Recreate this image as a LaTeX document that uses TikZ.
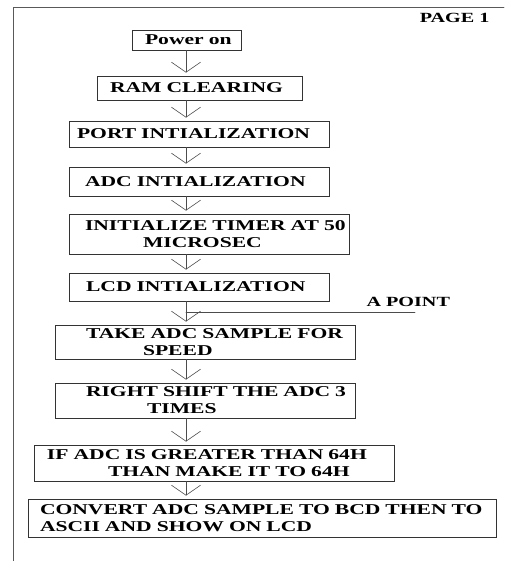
\documentclass[tikz,border=0pt]{standalone}
\usepackage{fontspec}
\usepackage{tikz}
\usetikzlibrary{arrows.meta}
\newfontfamily\flowfont{Liberation Serif}[FakeStretch=1.44]

\begin{document}
\begin{tikzpicture}[x=1pt,y=-1pt,>={Straight Barb[length=10pt,width=29pt]},font=\flowfont\bfseries\fontsize{15}{17}\selectfont,line cap=round,
  box/.style={draw=black!80,line width=0.8pt,inner xsep=0pt,inner ysep=0pt,align=left},
  flow/.style={->,gray!60!black,line width=0.6pt,shorten >=3pt}]
\useasboundingbox (0,0) rectangle (504,561);
\draw[gray!70!black,line width=0.8pt] (504,7) -- (13,7) -- (13,561);
\coordinate (axis) at (186,0);
\node[anchor=east,font=\flowfont\bfseries\fontsize{14}{16}\selectfont] (page) at (493,17.5) {PAGE 1};
\node[box,text width=109pt,minimum height=20pt] (pwr) at (186.5,40) {\hspace*{13pt}Power on};
\node[box,text width=205pt,minimum height=24pt] (ram) at (199.5,88) {\hspace*{13pt}RAM CLEARING};
\node[box,text width=260pt,minimum height=26pt] (port) at (199,134) {\hspace*{8pt}PORT INTIALIZATION};
\node[box,text width=260pt,minimum height=29pt] (adc) at (199,181.5) {\hspace*{16pt}ADC INTIALIZATION};
\node[box,text width=280pt,minimum height=40pt] (timer) at (209,234) {\hspace*{16pt}INITIALIZE TIMER AT 50\\\hspace*{74pt}MICROSEC};
\node[box,text width=260pt,minimum height=28pt] (lcd) at (199,287) {\hspace*{17pt}LCD INTIALIZATION};
\node[box,text width=300pt,minimum height=34pt] (sample) at (205,342) {\hspace*{31pt}TAKE ADC SAMPLE FOR\\\hspace*{88pt}SPEED};
\node[box,text width=300pt,minimum height=35pt] (shift) at (205,400.5) {\hspace*{31pt}RIGHT SHIFT THE ADC 3\\\hspace*{92pt}TIMES};
\node[box,text width=360pt,minimum height=36pt] (ifadc) at (214,463) {\hspace*{13pt}IF ADC IS GREATER THAN 64H\\\hspace*{74pt}THAN MAKE IT TO 64H};
\node[box,text width=468pt,minimum height=38pt] (conv) at (262,518) {\hspace*{12pt}CONVERT ADC SAMPLE TO BCD THEN TO\\\hspace*{12pt}ASCII AND SHOW ON LCD};
\node[anchor=west,font=\flowfont\bfseries\fontsize{14}{16}\selectfont] (apoint) at (363,302) {A POINT};
\coordinate (aend) at (415,312);
\draw[flow] (pwr.south -| axis) -- (ram.north -| axis);
\draw[flow] (ram.south -| axis) -- (port.north -| axis);
\draw[flow] (port.south -| axis) -- (adc.north -| axis);
\draw[flow] (adc.south -| axis) -- (timer.north -| axis);
\draw[flow] (timer.south -| axis) -- (lcd.north -| axis);
\draw[flow] (lcd.south -| axis) -- (sample.north -| axis);
\draw[flow] (sample.south -| axis) -- (shift.north -| axis);
\draw[flow] (shift.south -| axis) -- (ifadc.north -| axis);
\draw[flow] (ifadc.south -| axis) -- (conv.north -| axis);
\draw[gray!60!black,line width=0.6pt] (aend) -- (aend -| axis);
\end{tikzpicture}
\end{document}
